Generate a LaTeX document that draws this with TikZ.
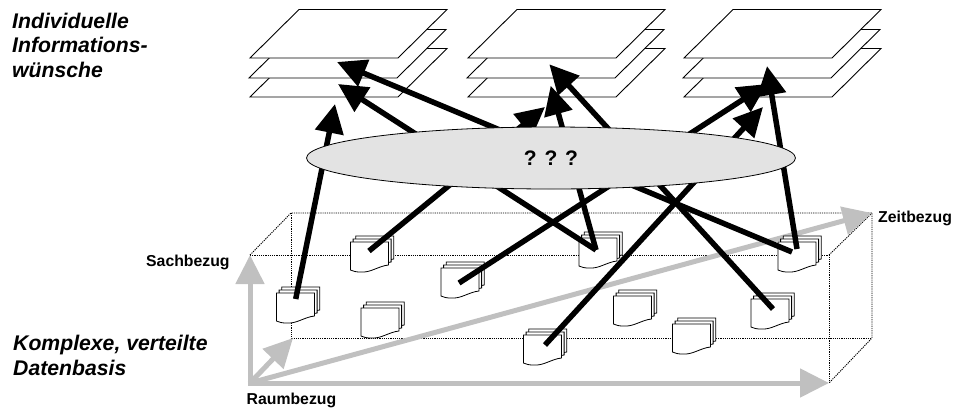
\documentclass[tikz,border=0pt]{standalone}
\usepackage{fontspec}
\setmainfont{Liberation Sans}
\usetikzlibrary{arrows.meta,shapes.geometric}
\definecolor{axisgray}{HTML}{C0C0C0}
\definecolor{ellgray}{HTML}{E3E3E3}
\tikzset{
  x=1pt,y=-1pt,
  plane/.style={draw=black,fill=white,line width=0.9pt,line join=miter},
  boxedge/.style={draw=black,line width=0.9pt,dash pattern=on 1.2pt off 1pt},
  axisarrow/.style={draw=axisgray,line width=5pt,-{Triangle[length=29pt,width=28pt]}},
  flowarrow/.style={draw=black,line width=5.5pt,-{Triangle[length=29pt,width=28pt]}},
  sheet/.style={draw=black,fill=white,line width=0.8pt},
  heading/.style={inner sep=0pt,anchor=base west,font=\fontsize{21.2}{24.6}\selectfont\bfseries\itshape},
  axislabel/.style={inner sep=0pt,anchor=base west,font=\fontsize{15.8}{18}\selectfont\bfseries},
  planestack/.pic={
    \path[plane] (0,97)--(49,48.5)--(197,48.5)--(148,97)--cycle;
    \path[plane] (-1,78)--(48,29.5)--(196,29.5)--(147,78)--cycle;
    \path[plane] (0,58)--(49,9.5)--(197,9.5)--(148,58)--cycle;
  },
  docstack/.pic={
    \foreach \d/\e in {5.3/-6,2.6/-3,0/0}{
      \path[sheet,shift={(\d pt,-\e pt)}] (0,0)--(38,0)--(38,23)
        .. controls (28,24) and (20,31) .. (10,30)
        .. controls (6,30) and (3,29.5) .. (0,28)--cycle;
    }
  }
}
\begin{document}
\begin{tikzpicture}
\useasboundingbox (0,0) rectangle (955,407);
% information planes
\pic at (250,0) {planestack};
\pic at (468,0) {planestack};
\pic at (684,0) {planestack};
% data cube
\coordinate (o) at (250,383);
\coordinate (ftl) at (250,255);
\coordinate (ftr) at (829,255);
\coordinate (fbr) at (829,383);
\coordinate (btl) at (291,213);
\coordinate (btr) at (872,213);
\coordinate (bbl) at (291,338);
\coordinate (bbr) at (872,338);
\draw[boxedge] (ftl)--(ftr)--(fbr);
\draw[boxedge] (ftl)--(btl)--(btr)--(bbr)--(fbr);
\draw[boxedge] (btl)--(bbl)--(bbr);
\draw[boxedge] (ftr)--(btr);
% axes
\coordinate (oh) at (247.5,383);
\coordinate (bh) at (293,338);
\draw[axisarrow] (oh)--(fbr);
\draw[axisarrow] (o)--(ftl);
\draw[axisarrow] (o)--(btr);
\draw[axisarrow] (o)--(bh);
% document stacks
\pic at (276.5,293) {docstack};
\pic at (350.5,242) {docstack};
\pic at (441,268) {docstack};
\pic at (361,308) {docstack};
\pic at (523.5,335) {docstack};
\pic at (579,238) {docstack};
\pic at (613.5,296) {docstack};
\pic at (672.5,324) {docstack};
\pic at (751,299) {docstack};
\pic at (778,242) {docstack};
% arrow ends
\coordinate (sA) at (295.7,299);
\coordinate (sB) at (369,251);
\coordinate (sC) at (459,283);
\coordinate (sE) at (545,345);
\coordinate (sF) at (596,250);
\coordinate (sI) at (773,309);
\coordinate (sJ) at (792,252);
\coordinate (sK) at (797,249);
\coordinate (tA) at (335,104);
\coordinate (tB) at (545,107);
\coordinate (tC) at (767,84);
\coordinate (tE) at (763,107);
\coordinate (tF) at (550.7,85.7);
\coordinate (tFb) at (338,84);
\coordinate (tI) at (549.3,64.3);
\coordinate (tJ) at (337,62);
\coordinate (tK) at (767,66);
\draw[flowarrow] (sA)--(tA);
\draw[flowarrow] (sB)--(tB);
\draw[flowarrow] (sC)--(tC);
\draw[flowarrow] (sE)--(tE);
\draw[flowarrow] (sF)--(tFb);
\draw[flowarrow] (sJ)--(tJ);
\draw[flowarrow] (sF)--(tF);
\draw[flowarrow] (sI)--(tI);
\draw[flowarrow] (sK)--(tK);
% mediator
\node[ellipse,draw=black,fill=ellgray,line width=0.8pt,inner sep=0pt,minimum width=489pt,minimum height=62pt,font=\fontsize{21}{24}\selectfont\bfseries] (med) at (551,158) {? ? ?};
% labels
\node[heading] (l1) at (12,28) {Individuelle};
\node[heading] (l2) at (12,52.5) {Informations-};
\node[heading] (l3) at (12,77) {wünsche};
\node[heading] (l4) at (13,350) {Komplexe, verteilte};
\node[heading] (l5) at (13,375) {Datenbasis};
\node[axislabel] (sach) at (146,266) {Sachbezug};
\node[axislabel] (raum) at (246.5,404) {Raumbezug};
\node[axislabel] (zeit) at (878,222.5) {Zeitbezug};
\end{tikzpicture}
\end{document}
